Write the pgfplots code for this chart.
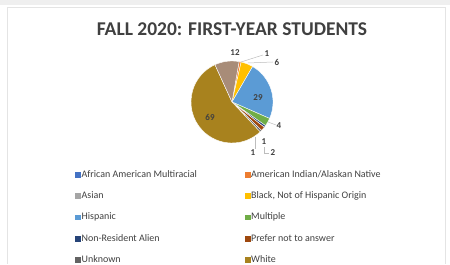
\documentclass[border=0pt]{standalone}
\usepackage{pgfplots}
\usepackage{pgfplotstable}
\pgfplotsset{compat=1.18}
\usepackage{fontspec}
\setmainfont{Carlito}
\definecolor{cAAM}{HTML}{4472C4}
\definecolor{cAI}{HTML}{ED7D31}
\definecolor{cAsian}{HTML}{A5A5A5}
\definecolor{cBlack}{HTML}{FFC000}
\definecolor{cHisp}{HTML}{5B9BD5}
\definecolor{cMult}{HTML}{70AD47}
\definecolor{cNRA}{HTML}{264478}
\definecolor{cPref}{HTML}{9E480E}
\definecolor{cUnk}{HTML}{636363}
\definecolor{cWhite}{HTML}{A8821E}
\definecolor{cTop}{HTML}{A88C78}
\definecolor{txt}{HTML}{404040}
\definecolor{frame}{HTML}{E4E4E4}
% slices clockwise from the start angle
\pgfplotstableread{
v c
1 cAI
6 cBlack
29 cHisp
4 cMult
1 cNRA
2 cPref
1 cUnk
69 cWhite
12 cTop
}\piedata
\begin{document}
\begin{tikzpicture}
\begin{axis}[
  x=1pt, y=1pt, xmin=0, xmax=450, ymin=0, ymax=264,
  hide axis, clip=false, scale only axis,
  legend columns=2,
  legend image code/.code={\fill[#1] (0pt,-2.4pt) rectangle (4.8pt,2.4pt);},
  legend style={draw=none, fill=none, at={(axis cs:75,94)}, anchor=north west,
    font=\fontsize{10}{10}\selectfont\color{txt},
    inner sep=0pt, row sep=12.3pt, column sep=0pt,
    nodes={inner xsep=1.2pt, inner ysep=0pt, text height=7pt, text depth=2pt},
    cells={anchor=west}},
]
\path (axis cs:0,0) rectangle (axis cs:450,264);
\fill[frame!60] (axis cs:0,259) rectangle (axis cs:450,264);
\draw[frame, line width=0.8pt] (axis cs:7,0) -- (axis cs:7,257) -- (axis cs:445,257) -- (axis cs:445,0);
\pgfplotsextra{
  \pgfplotstablegetrowsof{\piedata}\pgfmathtruncatemacro\nrows{\pgfplotsretval-1}
  \xdef\total{0}
  \foreach \i in {0,...,\nrows}{
    \pgfplotstablegetelem{\i}{v}\of\piedata
    \pgfmathsetmacro\t{\total+\pgfplotsretval}\xdef\total{\t}
  }
  \xdef\cum{80}
  \foreach \i in {0,...,\nrows}{
    \pgfplotstablegetelem{\i}{v}\of\piedata \let\val\pgfplotsretval
    \pgfplotstablegetelem{\i}{c}\of\piedata \let\col\pgfplotsretval
    \pgfmathsetmacro\a{\cum}
    \pgfmathsetmacro\b{\cum-\val/\total*360}
    \fill[fill=\col, draw=white, line width=0.4pt] (axis cs:232,162) -- ++(\a:41pt) arc[start angle=\a, end angle=\b, radius=41pt] -- cycle;
    \xdef\cum{\b}
  }
}
% title
\node[font=\fontsize{19.5}{21}\selectfont\bfseries, text=txt] at (axis cs:232,235) {FALL 2020: FIRST-YEAR STUDENTS};
% data labels
\begin{scope}[every node/.style={font=\fontsize{9}{10}\selectfont\bfseries, text=txt, inner sep=0.5pt}]
\node at (axis cs:235,211) {12};
\node at (axis cs:267,210) {1};
\node at (axis cs:277,202) {6};
\node at (axis cs:258,166) {29};
\node at (axis cs:210,147) {69};
\node at (axis cs:279,138) {4};
\node at (axis cs:264,122) {1};
\node at (axis cs:273,111) {2};
\node at (axis cs:253,111) {1};
\end{scope}
\begin{scope}[draw=frame!40!black!40, line width=0.5pt]
\draw (axis cs:263,209) -- (axis cs:241,202);
\draw (axis cs:273,202) -- (axis cs:248,201);
\draw (axis cs:276,139) -- (axis cs:268,142);
\draw (axis cs:269,111) -- (axis cs:264,111) -- (axis cs:264,117);
\draw (axis cs:255,115) -- (axis cs:255,127);
\end{scope}
\addlegendimage{cAAM}\addlegendentry{\makebox[162pt][l]{African American Multiracial}}
\addlegendimage{cAI}\addlegendentry{American Indian/Alaskan Native}
\addlegendimage{cAsian}\addlegendentry{\makebox[162pt][l]{Asian}}
\addlegendimage{cBlack}\addlegendentry{Black, Not of Hispanic Origin}
\addlegendimage{cHisp}\addlegendentry{\makebox[162pt][l]{Hispanic}}
\addlegendimage{cMult}\addlegendentry{Multiple}
\addlegendimage{cNRA}\addlegendentry{\makebox[162pt][l]{Non-Resident Alien}}
\addlegendimage{cPref}\addlegendentry{Prefer not to answer}
\addlegendimage{cUnk}\addlegendentry{\makebox[162pt][l]{Unknown}}
\addlegendimage{cWhite}\addlegendentry{White}
\end{axis}
\end{tikzpicture}
\end{document}
